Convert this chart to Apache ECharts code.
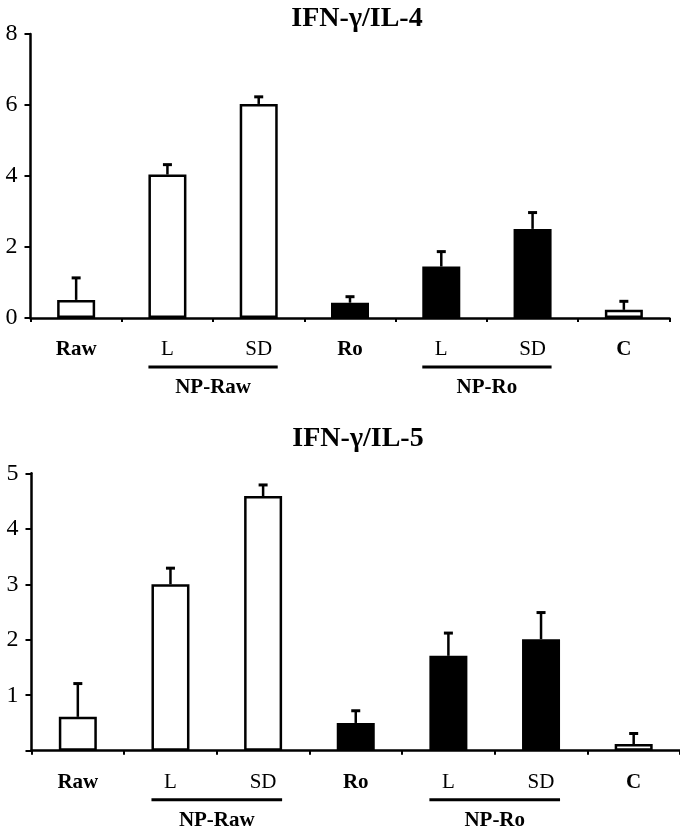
<!DOCTYPE html>
<html>
<head>
<meta charset="utf-8">
<script src="https://cdn.jsdelivr.net/npm/echarts@6/dist/echarts.min.js"></script>
<style>html,body{margin:0;padding:0;background:#fff}#c{width:680px;height:830px}</style>
</head>
<body>
<div id="c"></div>
<script>
var categories = ['Raw', 'L', 'SD', 'Ro', 'L', 'SD', 'C'];
var boldCategory = [true, false, false, true, false, false, true];
var filled = [false, false, false, true, true, true, false];
var il4Mean = [0.51, 4.04, 6.03, 0.43, 1.45, 2.51, 0.23];
var il4Err = [0.62, 0.28, 0.20, 0.17, 0.42, 0.46, 0.24];
var il5Mean = [0.61, 3.00, 4.59, 0.50, 1.71, 2.01, 0.12];
var il5Err = [0.60, 0.29, 0.20, 0.22, 0.41, 0.48, 0.19];
var groups = [{ name: 'NP-Raw', from: 1, to: 2 }, { name: 'NP-Ro', from: 4, to: 5 }];
var titles = ['IFN-\u03b3/IL-4', 'IFN-\u03b3/IL-5'];
var il4Ticks = [0, 2, 4, 6, 8];
var il5Ticks = [1, 2, 3, 4, 5];

var FONT = '"Liberation Serif", "Times New Roman", serif';
var BAR_W = 38;
var chart = echarts.init(document.getElementById('c'), null, { renderer: 'canvas' });

function xAxisCfg(gi) {
  return {
    type: 'category', gridIndex: gi, data: categories,
    axisLine: { lineStyle: { color: '#000', width: 2.5 } },
    axisTick: { show: true, length: 4, lineStyle: { color: '#000', width: 2 } },
    axisLabel: {
      margin: 21, interval: 0,
      formatter: function (v, i) { return boldCategory[i] ? '{b|' + v + '}' : '{n|' + v + '}'; },
      rich: {
        b: { fontFamily: FONT, fontWeight: 'bold', fontSize: 21, color: '#000' },
        n: { fontFamily: FONT, fontWeight: 'normal', fontSize: 21, color: '#000' }
      }
    }
  };
}
function yAxisCfg(gi, max, interval, ticks) {
  return {
    type: 'value', gridIndex: gi, min: 0, max: max, interval: interval,
    splitLine: { show: false },
    axisLine: { show: true, lineStyle: { color: '#000', width: 2.5 } },
    axisTick: { show: true, length: 6, lineStyle: { color: '#000', width: 2 } },
    axisLabel: {
      margin: 13, color: '#000', fontFamily: FONT, fontSize: 24,
      formatter: function (v) { return ticks.indexOf(v) >= 0 ? String(v) : ''; }
    }
  };
}
function barSeries(gi, means) {
  return {
    type: 'bar', xAxisIndex: gi, yAxisIndex: gi, barWidth: BAR_W,
    data: means.map(function (m, i) {
      return { value: m, itemStyle: { color: filled[i] ? '#000' : '#fff' } };
    }),
    itemStyle: { borderColor: '#000', borderWidth: 2.5 },
    silent: true, z: 2
  };
}
function errSeries(gi, means, errs) {
  return {
    type: 'custom', xAxisIndex: gi, yAxisIndex: gi, z: 3, silent: true,
    data: means.map(function (m, i) { return [i, m, m + errs[i]]; }),
    renderItem: function (params, api) {
      var p0 = api.coord([api.value(0), api.value(1)]);
      var p1 = api.coord([api.value(0), api.value(2)]);
      return {
        type: 'group', children: [
          { type: 'line', shape: { x1: p0[0], y1: p0[1], x2: p1[0], y2: p1[1] }, style: { stroke: '#000', lineWidth: 2.5 } },
          { type: 'line', shape: { x1: p1[0] - 4.5, y1: p1[1], x2: p1[0] + 4.5, y2: p1[1] }, style: { stroke: '#000', lineWidth: 3 } }
        ]
      };
    }
  };
}

var option = {
  backgroundColor: '#fff',
  animation: false,
  title: [
    { text: titles[0], left: 352, top: 0, textAlign: 'center', textStyle: { fontFamily: FONT, fontWeight: 'bold', fontSize: 28, color: '#000' } },
    { text: titles[1], left: 353, top: 420, textAlign: 'center', textStyle: { fontFamily: FONT, fontWeight: 'bold', fontSize: 28, color: '#000' } }
  ],
  grid: [
    { left: 30.5, top: 34, width: 639, height: 284, containLabel: false },
    { left: 31.5, top: 473.3, width: 651, height: 277.4, containLabel: false }
  ],
  xAxis: [xAxisCfg(0), xAxisCfg(1)],
  yAxis: [yAxisCfg(0, 8, 2, il4Ticks), yAxisCfg(1, 5, 1, il5Ticks)],
  series: [
    barSeries(0, il4Mean), errSeries(0, il4Mean, il4Err),
    barSeries(1, il5Mean), errSeries(1, il5Mean, il5Err)
  ]
};
chart.setOption(option);

// group brackets under the category labels, positioned through the axes
var elements = [];
[0, 1].forEach(function (gi) {
  var axisY = chart.convertToPixel({ yAxisIndex: gi }, 0);
  groups.forEach(function (g) {
    var xa = chart.convertToPixel({ xAxisIndex: gi }, g.from);
    var xb = chart.convertToPixel({ xAxisIndex: gi }, g.to);
    elements.push({
      type: 'line', silent: true,
      shape: { x1: xa - BAR_W / 2, y1: axisY + 49, x2: xb + BAR_W / 2, y2: axisY + 49 },
      style: { stroke: '#000', lineWidth: 3 }
    });
    elements.push({
      type: 'text', silent: true, x: (xa + xb) / 2, y: axisY + 70,
      style: { text: g.name, fontFamily: FONT, fontWeight: 'bold', fontSize: 21, fill: '#000', align: 'center', verticalAlign: 'middle' }
    });
  });
});
chart.setOption({ graphic: { elements: elements } });
</script>
</body>
</html>
